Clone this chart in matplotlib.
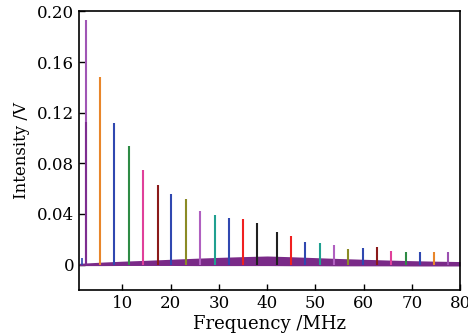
import matplotlib
matplotlib.use("Agg")
import matplotlib.pyplot as plt

# Peak frequencies (MHz) and amplitudes (V)
peak_freq = [2.4, 5.3, 8.3, 11.3, 14.3, 17.3, 20.1, 23.2, 26.1, 29.1, 32.1, 35.0, 37.9,
             42.1, 44.9, 47.9, 50.9, 53.9, 56.7, 59.8, 62.7, 65.7, 68.7, 71.7, 74.5, 77.5]
peak_amp = [0.193, 0.148, 0.112, 0.094, 0.075, 0.063, 0.056, 0.0515, 0.042, 0.039, 0.037,
            0.036, 0.0325, 0.026, 0.0224, 0.0177, 0.0169, 0.0153, 0.0124, 0.0129, 0.0137,
            0.0111, 0.0100, 0.0097, 0.0100, 0.0100]
peak_colors = ["#a055b5", "#e8862a", "#3048b0", "#2e8b45", "#e0409a", "#8b1a1a",
               "#3048b0", "#8b8b25", "#b060c0", "#20a090", "#3048b0", "#f02020",
               "#202020", "#202020", "#f02020", "#3048b0", "#20a090", "#b060c0",
               "#8b8b25", "#3048b0", "#8b1a1a", "#e0409a", "#2e8b45", "#3048b0",
               "#e8862a", "#9b4fb0"]

# Second (darker) trace at the first peak
first_dark_freq = [2.4]
first_dark_amp = [0.113]

# Noise floor envelope
noise_freq = [1.0, 3, 6, 10, 15, 20, 25, 30, 35, 40, 45, 50, 55, 60, 65, 70, 75, 80]
noise_low = [-0.0008, -0.0008, -0.0008, -0.0007, -0.0007, -0.0007, -0.0008, -0.0008,
             -0.0008, -0.0008, -0.0009, -0.0009, -0.0010, -0.0010, -0.0010, -0.0011,
             -0.0011, -0.0011]
noise_high = [0.0010, 0.0014, 0.0020, 0.0027, 0.0034, 0.0042, 0.0050, 0.0057, 0.0063,
              0.0068, 0.0062, 0.0055, 0.0048, 0.0042, 0.0036, 0.0031, 0.0027, 0.0024]

small_freq = [1.6]
small_amp = [0.0053]

plt.rcParams['font.family'] = ['DejaVu Serif']
fig = plt.figure(figsize=(4.68, 3.34), dpi=100)
ax = fig.add_axes([0.169, 0.132, 0.814, 0.834])

ax.fill_between(noise_freq, noise_low, noise_high, color="#7a2a88", lw=0, zorder=2)
ax.vlines(small_freq, 0, small_amp, colors="#3048b0", lw=1.2, zorder=3)
for f, a, c in zip(peak_freq, peak_amp, peak_colors):
    ax.vlines(f, 0, a, colors=c, lw=1.5, zorder=3)
ax.vlines(first_dark_freq, 0, first_dark_amp, colors="#7e2d90", lw=1.5, zorder=4)

ax.set_xlim(1, 80)
ax.set_ylim(-0.02, 0.20)
ax.set_xticks([10, 20, 30, 40, 50, 60, 70, 80])
ax.set_yticks([0, 0.04, 0.08, 0.12, 0.16, 0.20])
ax.set_yticklabels(["0", "0.04", "0.08", "0.12", "0.16", "0.20"])
ax.tick_params(direction="in", length=4, width=1, labelsize=12, top=False, right=False)
for s in ax.spines.values():
    s.set_linewidth(1.2)
ax.set_xlabel("Frequency /MHz", fontsize=13, labelpad=2)
ax.set_ylabel("Intensity /V", fontsize=12, labelpad=5)

fig.savefig("out.png", dpi=100)
